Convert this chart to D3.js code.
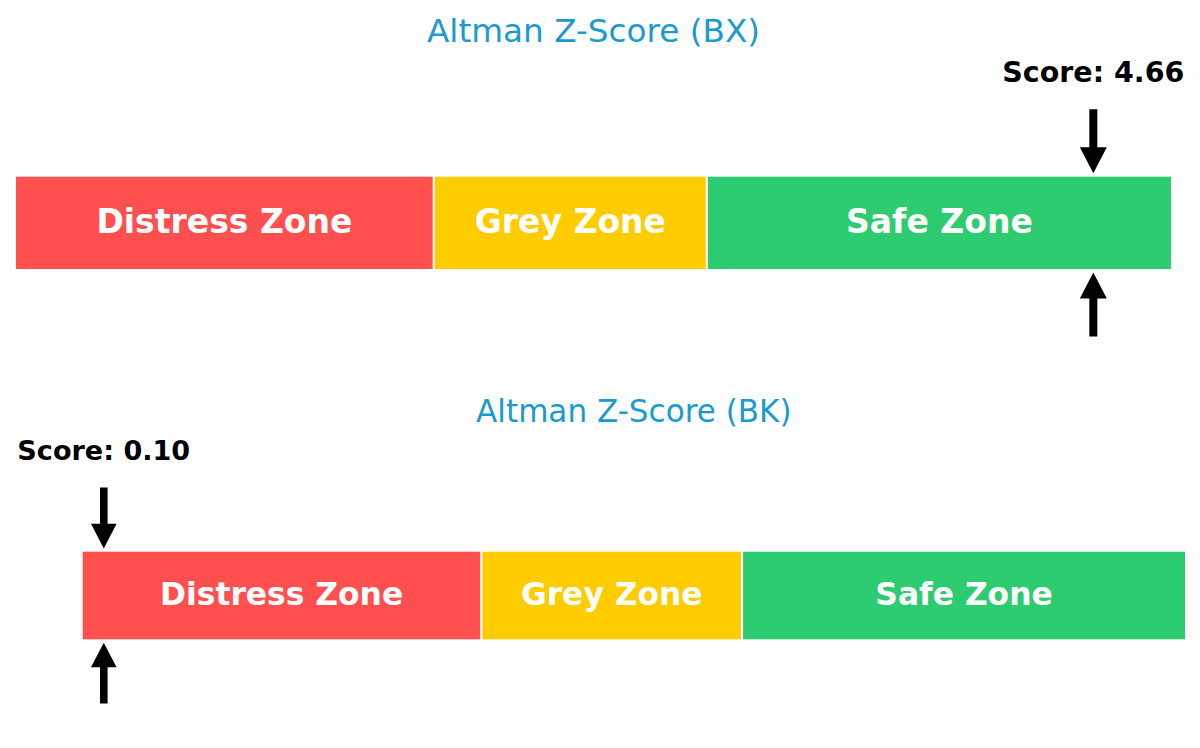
<!DOCTYPE html>
<html>
<head>
<meta charset="utf-8">
<script src="https://cdn.jsdelivr.net/npm/d3@7"></script>
<style>
  body { margin: 0; background: #fff; }
  svg { display: block; font-family: "DejaVu Sans", sans-serif; }
</style>
</head>
<body>
<script>
// chart data
var tickers = ["BX", "BK"];
var scores = [4.66, 0.10];
var zoneNames = ["Distress Zone", "Grey Zone", "Safe Zone"];
var zoneBounds = [0, 1.81, 2.99, 5.0];
var zoneColors = ["#ff4f4f", "#ffcc00", "#2ecc71"];

var width = 1200,
    height = 748;

var svg = d3.select("body")
    .append("svg")
    .attr("width", width)
    .attr("height", height);

svg.append("rect")
    .attr("width", width)
    .attr("height", height)
    .attr("fill", "#fff");

// layout of each gauge panel (the second one is drawn a bit smaller)
var panels = [
    {x0: 15, x1: 1172, top: 176.7, bottom: 269, titleY: 41.7, s: 1.0, arrowAbove: true, scoreY: 81.7},
    {x0: 81.7, x1: 1186, top: 551.7, bottom: 639.3, titleY: 421.5, s: 0.95, arrowAbove: true, scoreY: 460}
];

//draw one gauge
function drawGauge(i){
    var p = panels[i];
    var g = svg.append("g").attr("class", "gauge");

    var x = d3.scaleLinear()
        .domain([zoneBounds[0], zoneBounds[zoneBounds.length - 1]])
        .range([p.x0, p.x1]);

    var zones = zoneNames.map(function(name, j){
        return {name: name, from: zoneBounds[j], to: zoneBounds[j + 1], color: zoneColors[j]};
    });

    //zone blocks
    g.selectAll(".zone")
        .data(zones)
        .enter()
        .append("rect")
        .attr("class", "zone")
        .attr("x", function(d){ return x(d.from); })
        .attr("width", function(d){ return x(d.to) - x(d.from); })
        .attr("y", p.top - 1)
        .attr("height", p.bottom - p.top + 2)
        .attr("fill", function(d){ return d.color; })
        .attr("stroke", "#fff")
        .attr("stroke-width", 2);

    //zone labels
    var zfs = 33 * p.s;
    g.selectAll(".zoneLabel")
        .data(zones)
        .enter()
        .append("text")
        .attr("class", "zoneLabel")
        .attr("x", function(d){ return (x(d.from) + x(d.to)) / 2; })
        .attr("y", (p.top + p.bottom) / 2 + zfs * 0.3)
        .attr("text-anchor", "middle")
        .attr("font-size", zfs)
        .attr("font-weight", "bold")
        .attr("fill", "#fff")
        .text(function(d){ return d.name; });

    //title
    g.append("text")
        .attr("x", (p.x0 + p.x1) / 2)
        .attr("y", p.titleY)
        .attr("text-anchor", "middle")
        .attr("font-size", 32.7 * p.s)
        .attr("fill", "#1b9ad0")
        .text("Altman Z-Score (" + tickers[i] + ")");

    //score marker arrows
    var sx = x(scores[i]),
        len = 64 * p.s,
        headL = 26 * p.s,
        headW = 27 * p.s,
        shaftW = 8 * p.s,
        gap = 3.5 * p.s;

    function arrow(tipY, dir){
        // dir = 1 points down, -1 points up
        var tail = tipY - dir * len,
            hb = tipY - dir * headL;
        return "M" + (sx - shaftW / 2) + "," + tail +
            "L" + (sx + shaftW / 2) + "," + tail +
            "L" + (sx + shaftW / 2) + "," + hb +
            "L" + (sx + headW / 2) + "," + hb +
            "L" + sx + "," + tipY +
            "L" + (sx - headW / 2) + "," + hb +
            "L" + (sx - shaftW / 2) + "," + hb + "Z";
    }

    g.append("path")
        .attr("d", arrow(p.top - gap, 1))
        .attr("fill", "#000");
    g.append("path")
        .attr("d", arrow(p.bottom + gap, -1))
        .attr("fill", "#000");

    g.append("text")
        .attr("x", sx)
        .attr("y", p.scoreY)
        .attr("text-anchor", "middle")
        .attr("font-size", 28.5 * p.s)
        .attr("font-weight", "bold")
        .attr("fill", "#000")
        .text("Score: " + scores[i].toFixed(2));
}

tickers.forEach(function(t, i){ drawGauge(i); });
</script>
</body>
</html>
